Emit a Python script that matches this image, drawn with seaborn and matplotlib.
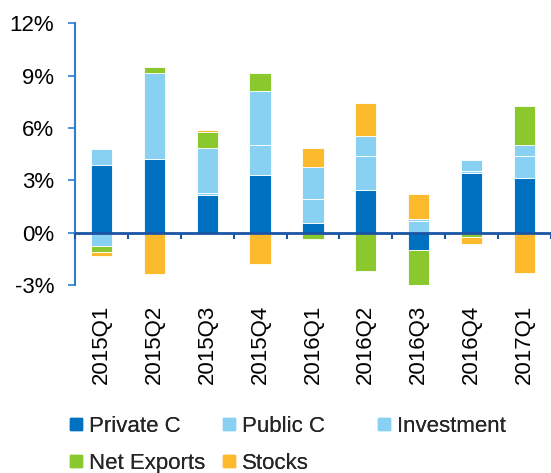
import seaborn as sns
import pandas as pd
import numpy as np
import matplotlib.pyplot as plt
from matplotlib.lines import Line2D

quarters = ["2015Q1", "2015Q2", "2015Q3", "2015Q4", "2016Q1",
            "2016Q2", "2016Q3", "2016Q4", "2017Q1"]
private_c = [3.87, 4.21, 2.19, 3.30, 0.55, 2.46, -0.99, 3.41, 3.11]
public_c = [0.95, 0.00, 0.08, 1.70, 1.36, 1.91, 0.69, 0.13, 1.26]
investment = [-0.76, 4.92, 2.57, 3.10, 1.88, 1.17, 0.08, 0.61, 0.68]
net_exports = [-0.33, 0.38, 0.91, 1.03, -0.36, -2.17, -2.15, -0.25, 2.19]
stocks = [-0.22, -2.36, 0.12, -1.79, 1.05, 1.87, 1.48, -0.41, -2.29]

series = ["Private C", "Public C", "Investment", "Net Exports", "Stocks"]
values = [private_c, public_c, investment, net_exports, stocks]
colors = ["#0070C0", "#89D1F3", "#89D1F3", "#8AC82E", "#FDBA2C"]
yticks = [-3, 0, 3, 6, 9, 12]

sns.set_theme(style="white")
plt.rcParams['font.family'] = ['Liberation Sans', 'DejaVu Sans']

fig = plt.figure(figsize=(5.51, 4.73), dpi=100)
ax = fig.add_axes([0.136, 0.397, 0.864, 0.554])

pos_base = np.zeros(len(quarters))
neg_base = np.zeros(len(quarters))
for name, vals, col in zip(series, values, colors):
    vals = np.array(vals, dtype=float)
    bottom = np.where(vals >= 0, pos_base, neg_base)
    sns.barplot(x=quarters, y=vals, bottom=bottom, color=col, saturation=1,
                width=0.4, edgecolor="white", linewidth=0.6, ax=ax, zorder=2)
    pos_base += np.where(vals >= 0, vals, 0)
    neg_base += np.where(vals < 0, vals, 0)

ax.set_xlim(-0.5, len(quarters) - 0.5)
ax.set_ylim(-3, 12)
ax.set_yticks(yticks)
ax.set_yticklabels([f"{t}%" for t in yticks], fontsize=16, color="black")
ax.tick_params(axis="y", direction="out", length=5, width=1.2, color="#2E7FCF",
               pad=10, left=True)
ax.tick_params(axis="x", length=0, pad=14, labelsize=16, labelcolor="black")
plt.setp(ax.get_xticklabels(), rotation=90, va="top")

for s in ["top", "right", "bottom"]:
    ax.spines[s].set_visible(False)
ax.spines["left"].set_color("#2E7FCF")
ax.spines["left"].set_linewidth(1.5)

ax.axhline(0, color="#1B55A3", linewidth=2, zorder=3)
ax.vlines(np.arange(-0.5, len(quarters)), -0.38, 0, color="#1B55A3",
          linewidth=1.5, zorder=3, clip_on=False)

# legend: three columns placed separately to match the uneven spacing
handles = [Line2D([], [], marker="s", linestyle="", markersize=8,
                  markerfacecolor=c, markeredgecolor=c) for c in colors]
columns = [([0, 3], 0.125), ([1, 4], 0.403), ([2], 0.684)]
for idx, xpos in columns:
    leg = fig.legend([handles[i] for i in idx], [series[i] for i in idx],
                     loc="upper left", bbox_to_anchor=(xpos, 0.12),
                     frameon=False, fontsize=16, handlelength=0.6,
                     handletextpad=0.3, labelspacing=0.72, borderpad=0,
                     borderaxespad=0)
    fig.add_artist(leg)

fig.savefig("out.png", dpi=100)
